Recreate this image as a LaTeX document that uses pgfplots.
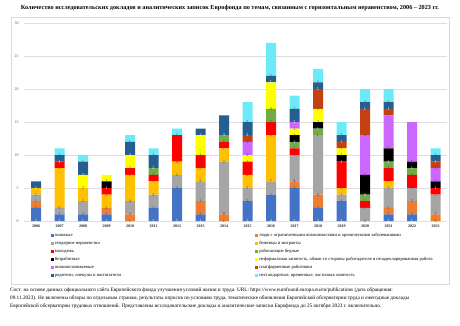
\documentclass[border=0pt]{standalone}
\usepackage{pgfplots}
\usepackage{pgfplotstable}
\pgfplotsset{compat=1.18}
\usepackage{fontspec}
\setmainfont{Liberation Serif}
\definecolor{cBlue}{HTML}{4472C4}
\definecolor{cOrange}{HTML}{ED7D31}
\definecolor{cGray}{HTML}{A5A5A5}
\definecolor{cGold}{HTML}{FFC000}
\definecolor{cRed}{HTML}{FF0000}
\definecolor{cGreen}{HTML}{70AD47}
\definecolor{cBlack}{HTML}{000000}
\definecolor{cYellow}{HTML}{FFFF00}
\definecolor{cPurple}{HTML}{CC66FF}
\definecolor{cBrown}{HTML}{C4400F}
\definecolor{cDark}{HTML}{255E91}
\definecolor{cCyan}{HTML}{6CEAF8}
\definecolor{lab}{HTML}{404040}
\pgfplotsset{
  sq/.style={legend image code/.code={\fill[##1] (0pt,-1.5pt) rectangle (3pt,1.5pt);}},
  halfdown/.code={%
    \begingroup
    \pgfkeys{/pgf/fpu=true,/pgf/fpu/output format=fixed}%
    \pgfmathparse{\pgfplotspointmeta*3.3}%
    \global\let\myhalf\pgfmathresult
    \endgroup
  },
}
\pgfplotstableread{
idx a b c d e f g h i j k l
0  2 1 1 1 0 0 0 0 0 0 1 0
1  1 0 1 6 1 0 0 0 0 0 1 1
2  1 0 2 2 0 0 0 2 0 0 2 1
3  1 1 0 2 1 0 1 1 0 0 0 0
4  0 1 2 4 1 0 0 2 0 0 2 1
5  2 0 2 2 1 1 0 0 0 0 2 1
6  5 0 2 2 4 0 0 0 0 0 0 1
7  1 2 3 2 2 0 0 3 0 0 1 0
8  0 1 8 2 1 1 0 0 0 0 3 0
9  3 0 2 2 2 0 0 1 2 1 2 3
10 4 0 2 7 2 2 0 4 0 0 1 5
11 5 1 4 0 1 1 1 1 1 0 2 2
12 2 2 9 0 0 1 1 2 0 3 1 2
13 3 0 1 1 4 0 1 1 0 1 1 2
14 0 0 2 0 1 1 3 0 6 4 1 2
15 1 1 3 1 2 1 2 0 5 1 1 2
16 1 2 2 0 2 1 1 0 6 0 0 0
17 0 1 3 0 1 0 1 0 2 1 1 1
}\data
\begin{document}
\begin{tikzpicture}[x=1pt,y=1pt]
\useasboundingbox (0,0) rectangle (460,325);
\draw[draw=black!15, line width=0.5pt] (11,325-17) rectangle (449,325-284);
\node[font=\bfseries\fontsize{6.2}{7}\selectfont] at (230,325-8) {Количество исследовательских докладов и аналитических записок Еврофонда по темам, связанным с горизонтальным неравенством, 2006 -- 2023 гг.};
\begin{axis}[
  at={(24.25pt,104pt)}, anchor=south west,
  scale only axis, width=423pt, height=198pt,
  ybar stacked, bar width=10pt,
  xmin=-0.5, xmax=17.5, ymin=0, ymax=30,
  xtick={0,...,17},
  xticklabels={2006,2007,2008,2009,2010,2011,2012,2013,2014,2015,2016,2017,2018,2019,2020,2021,2022,2023},
  ytick={0,5,...,30},
  ymajorgrids, grid style={draw=black!13, line width=0.5pt},
  axis line style={draw=none},
  major tick length=0pt,
  /pgf/number format/assume math mode=true,
  yticklabel style={font=\fontsize{4}{4}\selectfont, text=black!65, xshift=-2pt},
  xticklabel style={font=\bfseries\fontsize{4}{4}\selectfont, text=black!85, yshift=-0.5pt},
  nodes near coords={\pgfmathfloatifflags{\pgfplotspointmeta}{0}{}{\pgfmathprintnumber{\pgfplotspointmeta}}},
  every node near coord/.append style={/pgfplots/halfdown, anchor=center, yshift=-\myhalf pt, font=\fontsize{4.3}{4.3}\selectfont, text=black!70, inner sep=0pt},
  legend columns=2,
  legend style={at={(axis description cs:0.062,-0.058)}, anchor=north west, draw=none, fill=none, inner sep=0pt,
    font=\fontsize{4.6}{5}\selectfont, row sep=3.3pt,
    nodes={inner sep=0pt, inner xsep=1.2pt, text height=3.4pt, text depth=1.3pt},
    /tikz/every even column/.append style={column sep=0pt}},
  legend cell align=left,
]
\addplot[fill=cBlue, draw=none, sq, every node near coord/.append style={text=white}] table[x=idx,y=a]{\data};
\addlegendentry{\makebox[199pt][l]{пожилые}}
\addplot[fill=cOrange, draw=none, sq] table[x=idx,y=b]{\data};
\addlegendentry{люди с ограниченными возможностями и хроническими заболеваниями}
\addplot[fill=cGray, draw=none, sq] table[x=idx,y=c]{\data};
\addlegendentry{\makebox[199pt][l]{гендерное неравенство}}
\addplot[fill=cGold, draw=none, sq] table[x=idx,y=d]{\data};
\addlegendentry{беженцы и мигранты}
\addplot[fill=cRed, draw=none, sq] table[x=idx,y=e]{\data};
\addlegendentry{\makebox[199pt][l]{молодежь}}
\addplot[fill=cGreen, draw=none, sq] table[x=idx,y=f]{\data};
\addlegendentry{работающие бедные}
\addplot[fill=cBlack, draw=none, sq, every node near coord/.append style={text=white}] table[x=idx,y=g]{\data};
\addlegendentry{\makebox[199pt][l]{безработные}}
\addplot[fill=cYellow, draw=none, sq] table[x=idx,y=h]{\data};
\addlegendentry{неформальная занятость, обман со стороны работодателя и незадекларированная работа}
\addplot[fill=cPurple, draw=none, sq] table[x=idx,y=i]{\data};
\addlegendentry{\makebox[199pt][l]{низкооплачиваемые}}
\addplot[fill=cBrown, draw=none, sq] table[x=idx,y=j]{\data};
\addlegendentry{платформенные работники}
\addplot[fill=cDark, draw=none, sq, every node near coord/.append style={text=white}] table[x=idx,y=k]{\data};
\addlegendentry{\makebox[199pt][l]{родители, опекуны и воспитатели}}
\addplot[fill=cCyan, draw=none, sq] table[x=idx,y=l]{\data};
\addlegendentry{нестандартные, временные, частичная занятость}
\end{axis}
\node[anchor=north west, align=left, inner sep=0pt, font=\fontsize{5.2}{8.3}\selectfont] at (10,325-287.3) {Сост. на основе данных официального сайта Европейского фонда улучшения условий жизни и труда. URL: https://www.eurofound.europa.eu/en/publications (дата обращения:\\09.11.2023). Не включены обзоры по отдельным странам, результаты опросов по условиям труда, тематические обновления Европейской обсерватории труда и ежегодные доклады\\Европейской обсерватории трудовых отношений. Представлены исследовательские доклады и аналитические записки Еврофонда до 25 октября 2023 г. включительно.};
\end{tikzpicture}
\end{document}
